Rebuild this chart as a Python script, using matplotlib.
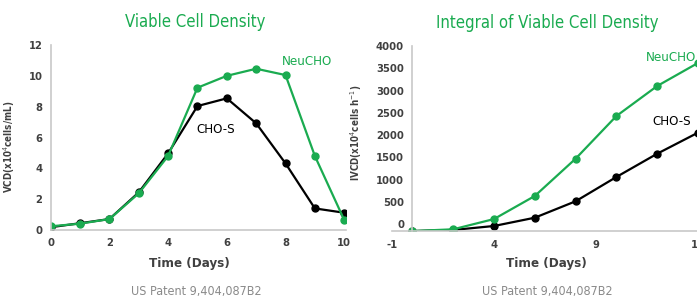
import matplotlib
matplotlib.use("Agg")
import matplotlib.pyplot as plt

plt.rcParams['font.family'] = ['DejaVu Sans']
plt.rcParams['font.stretch'] = 'condensed'
plt.rcParams['axes.unicode_minus'] = False

GREEN = '#1aab50'
GRAY_TXT = '#404040'
SPINE = '#c8c8c8'

# Viable cell density (x10^4 cells/mL)
days = [0, 1, 2, 3, 4, 5, 6, 7, 8, 9, 10]
vcd_chos = [0.18, 0.44, 0.71, 2.44, 4.97, 8.04, 8.54, 6.92, 4.32, 1.40, 1.12]
vcd_neu = [0.24, 0.41, 0.71, 2.38, 4.80, 9.23, 10.0, 10.46, 10.05, 4.80, 0.65]

# Integral of viable cell density
ivcd_days = [0, 2, 4, 6, 8, 10, 12, 14]
ivcd_chos = [-150, -125, -36, 150, 518, 1063, 1585, 2057]
ivcd_neu = [-150, -110, 120, 637, 1473, 2430, 3103, 3620]

vcd_ticks = [0, 2, 4, 6, 8, 10, 12]
ivcd_ticks = [0, 500, 1000, 1500, 2000, 2500, 3000, 3500, 4000]
ivcd_xticks = [-1, 4, 9, 14]

fig = plt.figure(figsize=(6.97, 3.0), dpi=100)


def style(ax):
    for s in ['top', 'right']:
        ax.spines[s].set_visible(False)
    for s in ['left', 'bottom']:
        ax.spines[s].set_color(SPINE)
        ax.spines[s].set_linewidth(1.2)
    ax.tick_params(length=0, labelsize=8, colors=GRAY_TXT, pad=6)
    for lab in ax.get_xticklabels() + ax.get_yticklabels():
        lab.set_fontweight('bold')


# left chart
ax1 = fig.add_axes([50.7 / 697, 1 - 230 / 300, (345.7 - 50.7) / 697, 185 / 300])
ax1.plot(days, vcd_chos, color='black', lw=1.6, marker='o', ms=5)
ax1.plot(days, vcd_neu, color=GREEN, lw=1.6, marker='o', ms=5)
ax1.set_xlim(0, 10.05)
ax1.set_ylim(0, 12)
ax1.set_xticks([0, 2, 4, 6, 8, 10])
ax1.set_yticks(vcd_ticks)
style(ax1)
ax1.set_ylabel('VCD(x10$^4$cells/mL)', fontsize=7, fontweight='bold', color=GRAY_TXT)
ax1.yaxis.set_label_coords(-0.115, 0.45)
ax1.text(8.72, 10.9, 'NeuCHO', color=GREEN, fontsize=9.5, ha='center', va='center')
ax1.text(5.62, 6.49, 'CHO-S', color='black', fontsize=9.5, ha='center', va='center')

# right chart
ax2 = fig.add_axes([392 / 697, 1 - 231.3 / 300, 326.4 / 697, (231.3 - 46) / 300])
ax2.plot(ivcd_days, ivcd_chos, color='black', lw=1.6, marker='o', ms=5)
ax2.plot(ivcd_days, ivcd_neu, color=GREEN, lw=1.6, marker='o', ms=5)
ax2.set_xlim(-1, 15)
ax2.set_ylim(-155, 4000)
ax2.set_xticks(ivcd_xticks)
ax2.set_yticks(ivcd_ticks)
ax2.spines['left'].set_position(('data', 0))
style(ax2)
ax2.set_ylabel('IVCD(x10$^4$cells h$^{-1}$)', fontsize=7, fontweight='bold', color=GRAY_TXT)
ax2.yaxis.set_label_coords(-0.085, 0.53)
ax2.text(12.68, 3753, 'NeuCHO', color=GREEN, fontsize=9.5, ha='center', va='center')
ax2.text(12.73, 2296, 'CHO-S', color='black', fontsize=9.5, ha='center', va='center')

# titles and captions
fig.text(195 / 697, 1 - 22 / 300, 'Viable Cell Density', color=GREEN, fontsize=12,
         ha='center', va='center')
fig.text(547 / 697, 1 - 23 / 300, 'Integral of Viable Cell Density', color=GREEN, fontsize=12,
         ha='center', va='center')
for cx in [189, 546]:
    fig.text(cx / 697, 1 - 263 / 300, 'Time (Days)', color=GRAY_TXT, fontsize=9.5,
             fontweight='bold', ha='center', va='center')
for cx in [196, 547]:
    fig.text(cx / 697, 1 - 292 / 300, 'US Patent 9,404,087B2', color='#8a8a8a', fontsize=9,
             ha='center', va='center')

fig.savefig('out.png', dpi=100)
